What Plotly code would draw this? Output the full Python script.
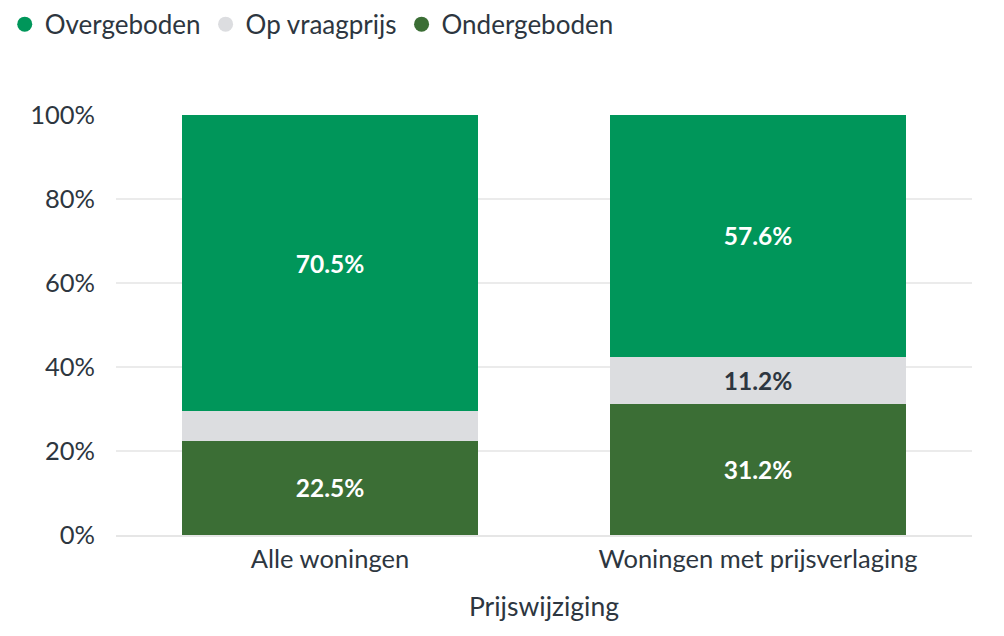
import plotly.graph_objects as go

# data
categorieen = ["Alle woningen", "Woningen met prijsverlaging"]
ondergeboden = [22.5, 31.2]
op_vraagprijs = [7.0, 11.2]
overgeboden = [70.5, 57.6]

kleuren = {
    "Overgeboden": "#00965a",
    "Op vraagprijs": "#dcdde0",
    "Ondergeboden": "#3b6e35",
}
tekstkleur = {
    "Overgeboden": "white",
    "Op vraagprijs": "#2d3640",
    "Ondergeboden": "white",
}
font_naam = "Lato, 'Open Sans', sans-serif"


def labels(waarden, minimum=8):
    # kleine segmenten krijgen geen label
    return [f"{v:.1f}%" if v >= minimum else "" for v in waarden]


fig = go.Figure()
reeksen = [
    ("Ondergeboden", ondergeboden),
    ("Op vraagprijs", op_vraagprijs),
    ("Overgeboden", overgeboden),
]
for naam, waarden in reeksen:
    fig.add_trace(go.Bar(
        x=categorieen,
        y=waarden,
        name=naam,
        marker=dict(color=kleuren[naam], line=dict(width=0)),
        text=labels(waarden),
        textposition="inside",
        insidetextanchor="middle",
        textangle=0,
        textfont=dict(family=font_naam, size=24.5, color=tekstkleur[naam], weight="bold"),
        showlegend=False,
        hoverinfo="skip",
    ))

# legenda met ronde markers
for naam in ["Overgeboden", "Op vraagprijs", "Ondergeboden"]:
    fig.add_trace(go.Scatter(
        x=[None], y=[None], mode="markers", name=naam,
        marker=dict(symbol="circle", size=15, color=kleuren[naam]),
    ))

fig.update_layout(
    width=988,
    height=620,
    barmode="stack",
    bargap=0.31,
    plot_bgcolor="white",
    paper_bgcolor="white",
    font=dict(family=font_naam, size=25.5, color="#2d3640"),
    margin=dict(l=108, r=24, t=107, b=93, autoexpand=False),
    uniformtext=dict(mode="show", minsize=10),
    legend=dict(
        orientation="h",
        x=-0.13, y=1.272,
        xref="paper", yref="paper",
        xanchor="left", yanchor="top",
        font=dict(size=26),
        traceorder="normal",
    ),
    xaxis=dict(
        title=dict(text="Prijswijziging", standoff=26, font=dict(size=26.5)),
        showgrid=False,
        showline=True,
        linecolor="#e6e6e6",
        linewidth=2,
        ticks="",
    ),
    yaxis=dict(
        range=[0, 100],
        dtick=20,
        ticksuffix="%",
        ticklabelstandoff=20,
        showgrid=True,
        gridcolor="#ebebeb",
        gridwidth=2,
        zeroline=False,
        ticks="",
    ),
)

fig.write_html("out.html")
